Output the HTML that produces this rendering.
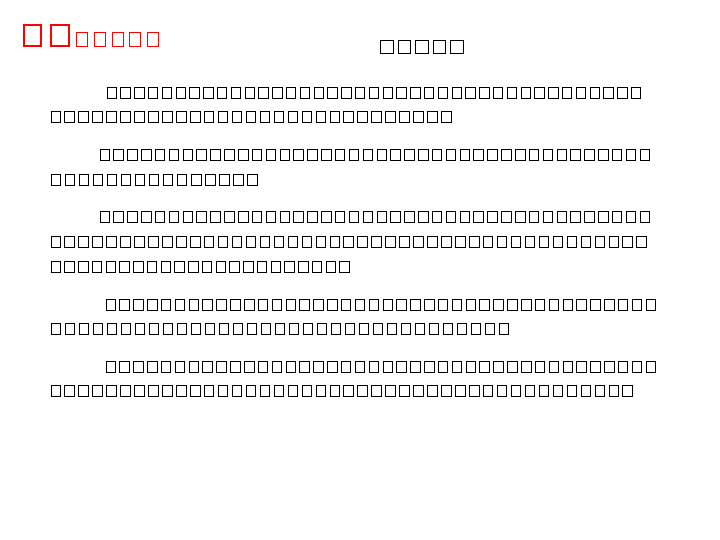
<!DOCTYPE html>
<html><head><meta charset="utf-8">
<style>
body{margin:0;width:720px;height:540px;background:#fff;position:relative;overflow:hidden;font-family:"Liberation Sans","Noto Sans CJK SC",sans-serif;}
.line{position:absolute;white-space:nowrap;}
.b{position:absolute;box-sizing:border-box;background:transparent;}
</style></head>
<body>
<div id="root"></div>
<script>
// [x, top, count, pitch, boxW, boxH, color, stroke, name]
const lines = [
  [22.5, 24, 2, 27.5, 19.5, 23, '#f00', 2.5, 'heading-large'],
  [76, 32, 5, 17.8, 12, 15, '#f00', 1.6, 'heading-small'],
  [380, 40, 5, 17.6, 13.5, 14, '#000', 1.5, 'title'],
  [106.5, 87, 39, 13.8, 10.5, 12, '#000', 1.3, 'para1-line1'],
  [50.5, 111, 29, 13.95, 10.5, 12, '#000', 1.3, 'para1-line2'],
  [99.5, 149, 40, 13.85, 10.5, 12, '#000', 1.3, 'para2-line1'],
  [50.5, 174, 15, 14.05, 10.5, 12, '#000', 1.3, 'para2-line2'],
  [99.5, 211, 40, 13.85, 10.5, 12, '#000', 1.3, 'para3-line1'],
  [50.5, 236, 43, 13.95, 10.5, 12, '#000', 1.3, 'para3-line2'],
  [50.5, 261, 22, 13.75, 10.5, 12, '#000', 1.3, 'para3-line3'],
  [105.5, 299, 40, 13.85, 10.5, 12, '#000', 1.3, 'para4-line1'],
  [50.5, 323, 33, 14.0, 10.5, 12, '#000', 1.3, 'para4-line2'],
  [105.5, 361, 40, 13.85, 10.5, 12, '#000', 1.3, 'para5-line1'],
  [50.5, 385, 42, 13.95, 10.5, 12, '#000', 1.3, 'para5-line2']
];
const root = document.getElementById('root');
for (const L of lines) {
  const [x, y, n, p, w, h, c, s, name] = L;
  const d = document.createElement('div');
  d.className = 'line';
  
  
  d.style.left = x + 'px'; d.style.top = y + 'px';
  d.style.width = (n * p) + 'px'; d.style.height = h + 'px';
  for (let i = 0; i < n; i++) {
    const b = document.createElement('span');
    b.className = 'b';
    
    
    b.style.left = (i * p) + 'px';
    b.style.width = w + 'px'; b.style.height = h + 'px';
    b.style.border = s + 'px solid ' + c;
    d.appendChild(b);
  }
  root.appendChild(d);
}
</script>
</body></html>
